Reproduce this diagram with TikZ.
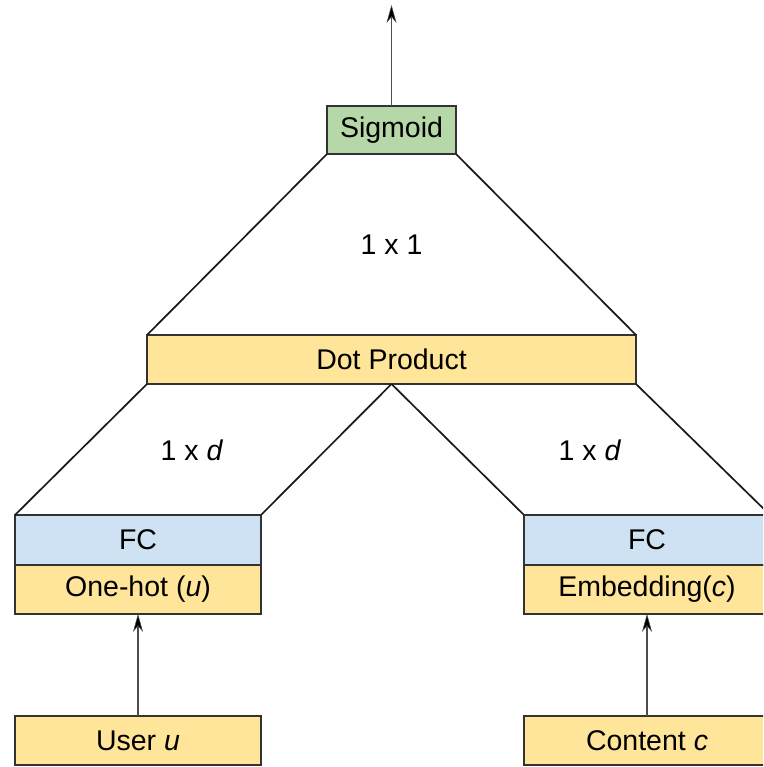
\documentclass[tikz,border=0pt]{standalone}
\usepackage{fontspec}
\setmainfont{Liberation Sans}
\usetikzlibrary{arrows.meta}
\definecolor{cyell}{HTML}{FFE599}
\definecolor{cgreen}{HTML}{B6D7A8}
\definecolor{cblue}{HTML}{CFE2F3}
\definecolor{cedge}{HTML}{333333}
\tikzset{
  box/.style={draw=cedge, line width=1.8pt, inner sep=0pt, outer sep=0pt, anchor=center,
    font=\fontsize{28.5}{32}\selectfont},
  ybox/.style={box, fill=cyell},
  gbox/.style={box, fill=cgreen},
  bbox/.style={box, fill=cblue},
  conn/.style={line width=1.7pt, black!90},
  arr/.style={line width=1.3pt, draw=black!70, -{Stealth[length=18pt,width=10pt,inset=6pt,fill=black,line width=0.5pt]}},
  lbl/.style={font=\fontsize{28.5}{32}\selectfont}
}
\begin{document}
\begin{tikzpicture}[x=1pt,y=-1pt]
\useasboundingbox (0,0) rectangle (763,767);
\clip (0,0) rectangle (763,767);
\node[gbox, minimum width=129pt, minimum height=48pt] (sig) at (391.5,130) {Sigmoid};
\node[ybox, minimum width=489pt, minimum height=49pt] (dot) at (391.5,359.5) {Dot Product};
\node[bbox, minimum width=246pt, minimum height=50pt] (fcL) at (138,540) {FC};
\node[ybox, minimum width=246pt, minimum height=49pt] (ohL) at (138,589.5) {One-hot (\textit{u})};
\node[ybox, minimum width=246pt, minimum height=49pt] (usr) at (138,740.5) {User \textit{u}};
\node[bbox, minimum width=246pt, minimum height=50pt] (fcR) at (647,540) {FC};
\node[ybox, minimum width=246pt, minimum height=49pt] (emb) at (647,589.5) {Embedding(\textit{c})};
\node[ybox, minimum width=246pt, minimum height=49pt] (cnt) at (647,740.5) {Content \textit{c}};
\coordinate (top) at (391.5,5);
\node[lbl] (l11) at (391.5,245) {1 x 1};
\node[lbl] (ldL) at (192,450) {1 x \textit{d}};
\node[lbl] (ldR) at (590,450) {1 x \textit{d}};
\draw[conn] (sig.south west) -- (dot.north west);
\draw[conn] (sig.south east) -- (dot.north east);
\draw[conn] (dot.south west) -- (fcL.north west);
\draw[conn] (dot.south) -- (fcL.north east);
\draw[conn] (dot.south) -- (fcR.north west);
\draw[conn] (dot.south east) -- (fcR.north east);
\draw[arr] (sig.north) -- (top);
\draw[arr] (usr.north) -- (ohL.south);
\draw[arr] (cnt.north) -- (emb.south);
\end{tikzpicture}
\end{document}
